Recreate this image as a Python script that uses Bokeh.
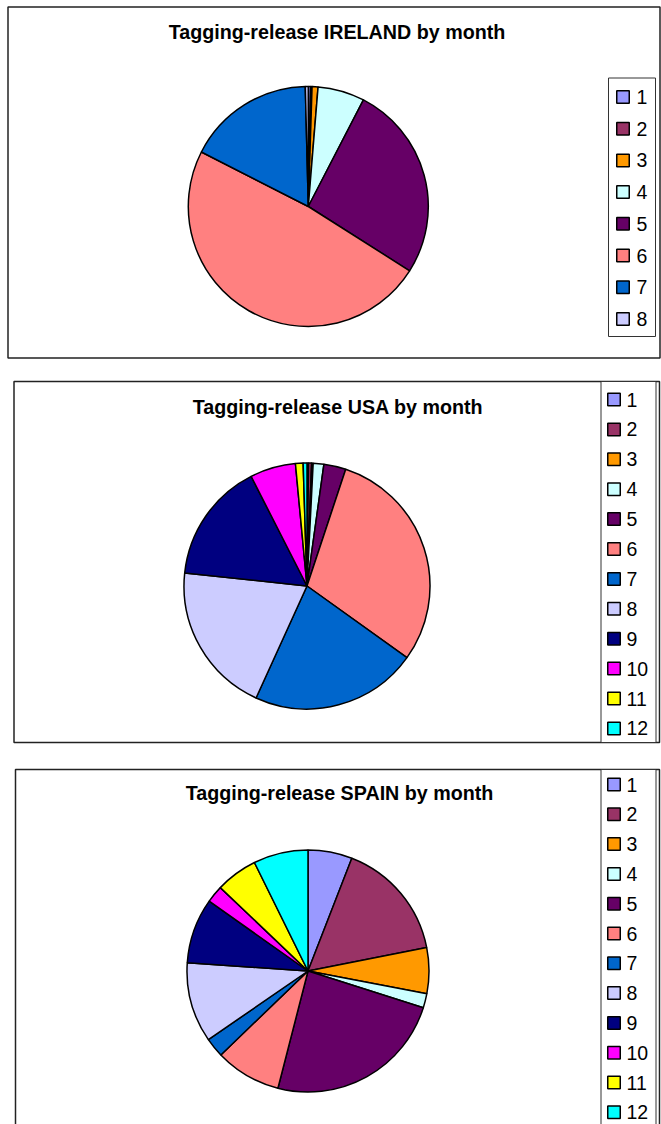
import math
from bokeh.plotting import figure
from bokeh.models import Range1d, ColumnDataSource
from bokeh.embed import file_html
from bokeh.resources import INLINE
from bokeh.core.properties import value

# ---- data (percent of releases per month) ----
months_ireland = ["1", "2", "3", "4", "5", "6", "7", "8"]
ireland = [0.3, 0.2, 0.8, 6.3, 26.4, 48.5, 17.1, 0.4]

months_usa = ["1", "2", "3", "4", "5", "6", "7", "8", "9", "10", "11", "12"]
usa = [0.2, 0.4, 0.2, 1.4, 2.9, 29.8, 21.9, 19.9, 15.8, 6.0, 1.0, 0.5]

months_spain = ["1", "2", "3", "4", "5", "6", "7", "8", "9", "10", "11", "12"]
spain = [5.9, 16.0, 6.1, 1.9, 24.1, 8.8, 2.6, 10.7, 8.7, 2.3, 5.6, 7.3]

titles = ["Tagging-release IRELAND by month",
          "Tagging-release USA by month",
          "Tagging-release SPAIN by month"]

colors = ["#9999FF", "#993366", "#FF9900", "#CCFFFF", "#660066", "#FF8080",
          "#0066CC", "#CCCCFF", "#000080", "#FF00FF", "#FFFF00", "#00FFFF"]

# ---- layout (picture pixel coordinates) ----
FIG_W, FIG_H = 661, 1124
def Y(py):
    return FIG_H - py

panels = [
    dict(frame=(7.5, 659.5, 6.5, 357.5), cx=307.8, cy=206, r=120,
         tx=336.5, ty=31, box=(608, 655, 77.5, 336), ly0=96.5, ldy=31.7,
         sx=622.5, txl=636),
    dict(frame=(13.5, 659, 381, 742), cx=306.5, cy=585.5, r=123,
         tx=337.5, ty=406, box=(600.5, 655.5, 381, 742), ly0=399, ldy=29.9,
         sx=613.5, txl=626),
    dict(frame=(15, 659, 769, 1140), cx=307.5, cy=970.5, r=121,
         tx=339, ty=792, box=(600.5, 655.5, 769, 1140), ly0=784, ldy=29.8,
         sx=613.5, txl=626),
]
datasets = [(months_ireland, ireland), (months_usa, usa), (months_spain, spain)]

p = figure(width=FIG_W, height=FIG_H, x_range=Range1d(0, FIG_W), y_range=Range1d(0, FIG_H),
           output_backend="svg", toolbar_location=None, min_border=0)
p.axis.visible = False
p.grid.visible = False
p.outline_line_color = None
p.background_fill_color = "white"
p.border_fill_color = "white"

for pan, (labels, vals), title in zip(panels, datasets, titles):
    l, r_, t, b = pan["frame"]
    p.quad(left=[l], right=[r_], top=[Y(t)], bottom=[Y(b)], fill_color=None,
           line_color="#222222", line_width=1.5)

    total = float(sum(vals))
    starts, ends = [], []
    cum = 0.0
    for v in vals:
        a0 = cum / total
        cum += v
        a1 = cum / total
        # clockwise from 12 o'clock
        starts.append(math.pi / 2 - 2 * math.pi * a1)
        ends.append(math.pi / 2 - 2 * math.pi * a0)
    src = ColumnDataSource(dict(start=starts, end=ends, color=colors[:len(vals)]))
    p.wedge(x=pan["cx"], y=Y(pan["cy"]), radius=pan["r"], start_angle="start",
            end_angle="end", direction="anticlock", fill_color="color",
            line_color="black", line_width=1.5, source=src)

    p.text(x=[pan["tx"]], y=[Y(pan["ty"])], text=[title], text_align="center",
           text_baseline="middle", text_font=value("Liberation Sans"),
           text_font_style="bold", text_font_size=value("19.7px"), text_color="black")

    bl, br, bt, bb = pan["box"]
    p.quad(left=[bl], right=[br], top=[Y(bt)], bottom=[Y(bb)], fill_color="white",
           line_color="#333333", line_width=1)
    ys = [Y(pan["ly0"] + i * pan["ldy"]) for i in range(len(labels))]
    p.rect(x=[pan["sx"]] * len(labels), y=ys, width=12.5, height=12.5,
           fill_color=colors[:len(labels)], line_color="black", line_width=1.5)
    p.text(x=[pan["txl"]] * len(labels), y=ys, text=labels, text_align="left",
           text_baseline="middle", text_font=value("Liberation Sans"),
           text_font_size=value("19.5px"), text_color="black")

open("out.html", "w").write(file_html(p, INLINE))
